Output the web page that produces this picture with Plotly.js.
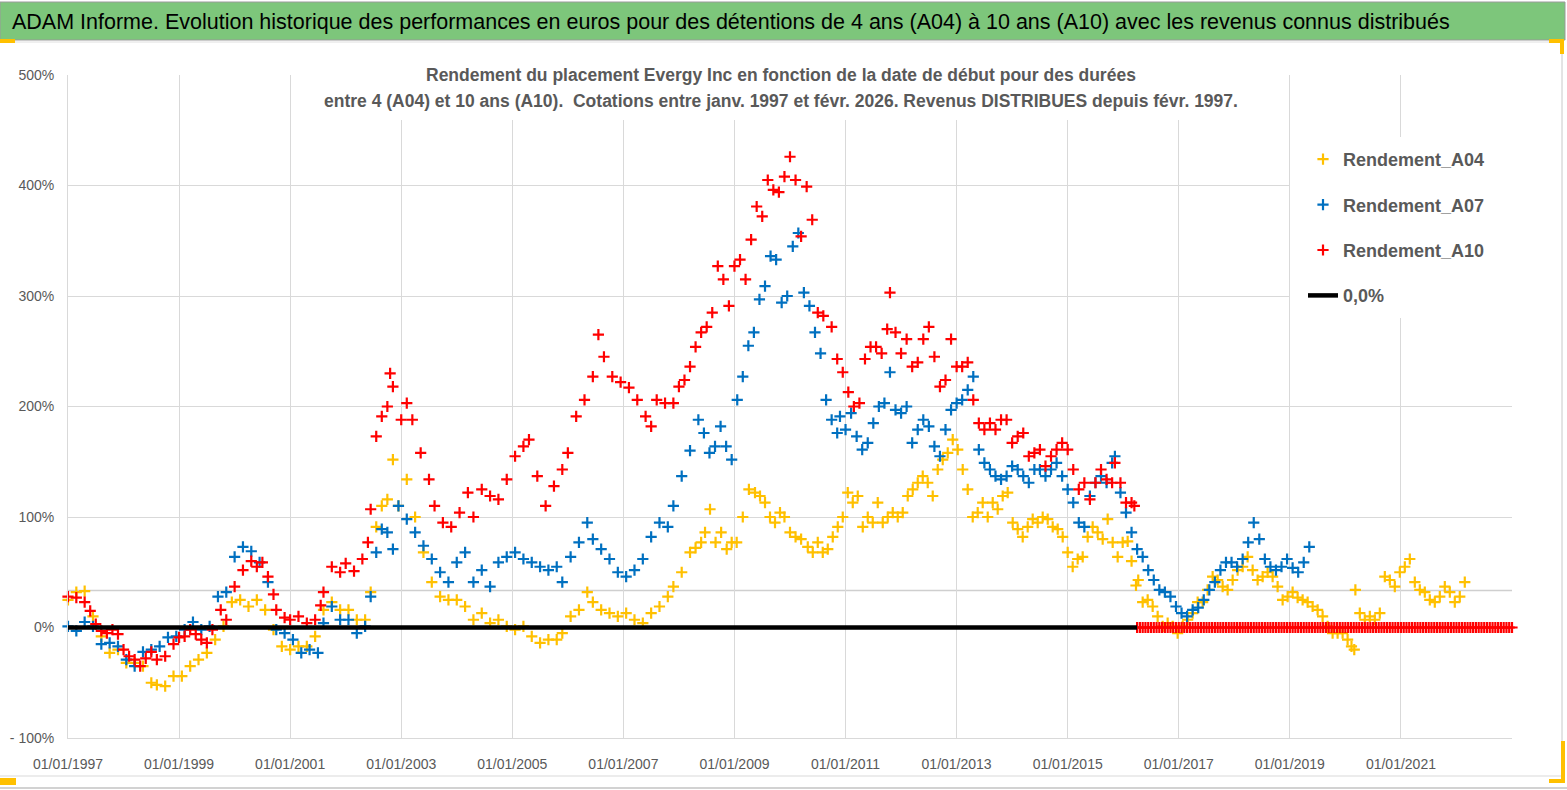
<!DOCTYPE html>
<html><head><meta charset="utf-8">
<script src="https://cdn.plot.ly/plotly-3.0.1.min.js"></script>
<style>html,body{margin:0;padding:0;background:#fff;}#chart{width:1567px;height:790px;}</style>
</head><body><div id="chart"></div>
<script>
// ---------------- DATA ----------------
const xTickVals = [1997,1999,2001,2003,2005,2007,2009,2011,2013,2015,2017,2019,2021];
const xTickText = ['01/01/1997','01/01/1999','01/01/2001','01/01/2003','01/01/2005','01/01/2007','01/01/2009','01/01/2011','01/01/2013','01/01/2015','01/01/2017','01/01/2019','01/01/2021'];
const yTickVals = [-100,0,100,200,300,400,500];
const yTickText = ['- 100%','0%','100%','200%','300%','400%','500%'];

const a04Years = [1997.0,1997.15,1997.3,1997.45,1997.6,1997.75,1997.9,1998.05,1998.2,1998.35,1998.5,1998.6,1998.75,1998.9,1999.05,1999.2,1999.35,1999.5,1999.65,1999.8,1999.95,2000.1,2000.25,2000.4,2000.55,2000.7,2000.85,2001.0,2001.15,2001.3,2001.45,2001.6,2001.75,2001.9,2002.05,2002.2,2002.35,2002.45,2002.55,2002.65,2002.75,2002.85,2002.95,2003.1,2003.25,2003.4,2003.55,2003.7,2003.85,2004.0,2004.15,2004.3,2004.45,2004.6,2004.75,2004.9,2005.05,2005.2,2005.35,2005.5,2005.65,2005.8,2005.9,2006.05,2006.2,2006.35,2006.45,2006.6,2006.75,2006.9,2007.05,2007.2,2007.35,2007.5,2007.65,2007.8,2007.9,2008.05,2008.2,2008.3,2008.4,2008.47,2008.56,2008.66,2008.76,2008.86,2008.95,2009.04,2009.15,2009.26,2009.37,2009.46,2009.55,2009.64,2009.73,2009.82,2009.9,2010.0,2010.1,2010.2,2010.32,2010.41,2010.5,2010.59,2010.68,2010.77,2010.86,2010.95,2011.04,2011.13,2011.22,2011.31,2011.4,2011.49,2011.58,2011.67,2011.76,2011.85,2011.94,2012.03,2012.12,2012.21,2012.3,2012.39,2012.48,2012.57,2012.66,2012.75,2012.84,2012.93,2013.02,2013.11,2013.2,2013.29,2013.38,2013.47,2013.56,2013.65,2013.74,2013.83,2013.92,2014.01,2014.1,2014.19,2014.28,2014.37,2014.46,2014.55,2014.64,2014.73,2014.82,2014.91,2015.0,2015.09,2015.18,2015.27,2015.36,2015.45,2015.54,2015.63,2015.72,2015.81,2015.9,2015.99,2016.08,2016.15,2016.23,2016.27,2016.35,2016.44,2016.53,2016.62,2016.71,2016.8,2016.89,2016.98,2017.07,2017.16,2017.25,2017.34,2017.43,2017.52,2017.61,2017.7,2017.79,2017.88,2017.97,2018.06,2018.15,2018.24,2018.33,2018.42,2018.51,2018.6,2018.69,2018.78,2018.87,2018.96,2019.05,2019.14,2019.23,2019.32,2019.41,2019.5,2019.59,2019.68,2019.77,2019.86,2019.95,2020.04,2020.11,2020.16,2020.18,2020.26,2020.35,2020.44,2020.53,2020.62,2020.71,2020.8,2020.89,2020.98,2021.07,2021.16,2021.25,2021.34,2021.43,2021.52,2021.61,2021.7,2021.79,2021.88,2021.97,2022.06,2022.15];
const a04Values = [25,32,33,10,-8,-23,-20,-32,-32,-35,-50,-52,-53,-44,-44,-35,-29,-23,-11,1,23,25,19,25,16,-2,-17,-20,-17,-17,-8,16,23,16,16,7,7,32,91,110,116,152,110,134,100,68,41,28,25,25,19,7,13,4,7,1,-2,1,-8,-14,-11,-11,-5,10,16,32,23,16,13,10,13,7,4,13,19,28,37,50,68,72,77,86,107,77,86,71,77,77,100,125,122,119,113,100,95,104,100,86,82,80,73,68,77,68,71,82,91,100,122,113,119,91,100,95,113,95,100,104,100,104,119,125,131,137,131,119,143,152,158,170,161,143,125,100,104,113,100,113,107,119,122,95,89,82,91,98,95,100,98,91,89,82,68,55,62,64,82,91,86,80,98,77,64,77,78,60,38,43,23,25,19,10,1,4,1,-5,1,7,13,23,23,34,46,43,37,34,43,52,55,64,52,43,46,50,46,37,25,28,32,27,25,23,19,16,10,1,-5,-5,-5,-11,-17,-20,34,13,7,10,7,13,46,43,37,50,55,62,41,34,32,25,23,28,37,32,23,28,41];

const a07Years = [1997.0,1997.15,1997.3,1997.45,1997.6,1997.75,1997.9,1998.05,1998.2,1998.35,1998.5,1998.65,1998.8,1998.95,1999.1,1999.25,1999.4,1999.55,1999.7,1999.85,2000.0,2000.15,2000.3,2000.45,2000.6,2000.75,2000.9,2001.05,2001.2,2001.35,2001.5,2001.6,2001.75,2001.9,2002.05,2002.2,2002.35,2002.45,2002.55,2002.65,2002.75,2002.85,2002.95,2003.1,2003.25,2003.4,2003.55,2003.7,2003.85,2004.0,2004.15,2004.3,2004.45,2004.6,2004.75,2004.9,2005.05,2005.2,2005.35,2005.5,2005.65,2005.8,2005.9,2006.05,2006.2,2006.35,2006.45,2006.6,2006.75,2006.9,2007.05,2007.2,2007.35,2007.5,2007.65,2007.8,2007.9,2008.05,2008.2,2008.35,2008.45,2008.55,2008.65,2008.75,2008.85,2008.95,2009.05,2009.15,2009.25,2009.35,2009.45,2009.55,2009.65,2009.75,2009.85,2009.95,2010.05,2010.15,2010.25,2010.35,2010.45,2010.55,2010.65,2010.75,2010.85,2010.9,2011.0,2011.1,2011.2,2011.3,2011.4,2011.5,2011.6,2011.7,2011.8,2011.9,2012.0,2012.1,2012.2,2012.3,2012.4,2012.5,2012.6,2012.7,2012.8,2012.9,2013.0,2013.1,2013.2,2013.3,2013.4,2013.5,2013.6,2013.7,2013.8,2013.9,2014.0,2014.1,2014.2,2014.3,2014.4,2014.5,2014.6,2014.7,2014.8,2014.9,2015.0,2015.1,2015.2,2015.3,2015.4,2015.5,2015.6,2015.7,2015.8,2015.85,2015.95,2016.05,2016.15,2016.25,2016.35,2016.45,2016.55,2016.65,2016.75,2016.85,2016.95,2017.05,2017.15,2017.25,2017.35,2017.45,2017.55,2017.65,2017.75,2017.85,2017.95,2018.05,2018.15,2018.25,2018.35,2018.45,2018.55,2018.65,2018.75,2018.85,2018.95,2019.05,2019.15,2019.25,2019.35];
const a07Values = [1,-3,5,1,-15,-14,-17,-29,-35,-22,-20,-17,-9,-8,-2,5,-2,1,28,32,64,73,69,59,41,-2,-5,-11,-23,-20,-23,4,19,7,7,-5,1,28,68,89,86,71,110,98,86,74,62,50,41,59,68,41,52,37,59,64,68,62,59,55,52,55,41,64,77,95,80,71,62,50,46,52,62,82,95,91,110,137,160,188,176,158,164,182,164,152,206,227,255,267,297,309,336,333,294,300,345,357,303,291,267,248,206,188,176,191,179,194,173,161,167,185,200,203,231,197,194,200,167,179,188,182,164,155,179,197,203,206,215,227,161,149,143,137,134,137,146,143,137,131,143,143,137,143,149,137,125,113,95,91,119,131,137,131,149,155,122,104,86,71,64,52,43,34,32,28,19,13,10,16,18,25,34,41,52,59,59,55,62,77,95,80,62,55,52,55,62,54,50,59,73];

const a10Years = [1997.0,1997.15,1997.3,1997.4,1997.5,1997.6,1997.7,1997.8,1997.9,1998.0,1998.1,1998.2,1998.3,1998.4,1998.5,1998.6,1998.75,1998.9,1999.0,1999.1,1999.2,1999.3,1999.4,1999.5,1999.6,1999.75,1999.85,2000.0,2000.15,2000.3,2000.4,2000.5,2000.6,2000.7,2000.75,2000.9,2001.0,2001.15,2001.3,2001.45,2001.55,2001.6,2001.75,2001.9,2002.0,2002.15,2002.3,2002.4,2002.45,2002.55,2002.65,2002.75,2002.8,2002.85,2003.0,2003.1,2003.2,2003.35,2003.5,2003.6,2003.75,2003.9,2004.05,2004.2,2004.3,2004.45,2004.6,2004.75,2004.9,2005.05,2005.2,2005.3,2005.45,2005.6,2005.75,2005.9,2006.0,2006.15,2006.3,2006.45,2006.55,2006.65,2006.8,2006.95,2007.1,2007.25,2007.4,2007.5,2007.6,2007.75,2007.9,2008.0,2008.1,2008.2,2008.3,2008.4,2008.5,2008.6,2008.7,2008.8,2008.9,2009.0,2009.1,2009.2,2009.3,2009.4,2009.5,2009.6,2009.7,2009.8,2009.9,2010.0,2010.1,2010.2,2010.3,2010.4,2010.5,2010.6,2010.75,2010.85,2010.95,2011.05,2011.15,2011.25,2011.35,2011.45,2011.55,2011.65,2011.75,2011.8,2011.9,2012.0,2012.1,2012.2,2012.3,2012.4,2012.5,2012.6,2012.7,2012.8,2012.9,2013.0,2013.1,2013.2,2013.3,2013.4,2013.5,2013.6,2013.7,2013.8,2013.9,2014.0,2014.1,2014.2,2014.3,2014.4,2014.5,2014.6,2014.7,2014.8,2014.9,2015.0,2015.1,2015.2,2015.3,2015.4,2015.5,2015.6,2015.7,2015.8,2015.85,2015.95,2016.05,2016.15,2016.2];
const a10Values = [28,27,23,15,3,-3,-5,-2,-6,-20,-26,-29,-35,-28,-22,-29,-26,-15,-9,-8,-2,-6,-11,-14,-2,16,7,37,52,60,55,59,46,30,16,9,7,10,4,7,20,32,55,50,58,51,62,77,107,173,191,200,230,218,188,203,188,158,134,110,95,91,104,122,100,125,119,116,134,155,164,170,137,110,128,143,158,191,206,227,265,245,227,222,217,206,191,182,206,203,203,218,224,236,254,267,272,285,327,315,291,327,333,315,351,381,372,405,396,394,408,426,405,354,399,369,285,282,272,243,231,213,200,203,243,254,254,248,270,303,267,248,261,236,240,261,272,245,218,224,261,236,236,240,206,185,179,185,179,188,188,167,173,176,155,158,161,146,155,161,167,161,143,125,131,116,131,143,134,131,149,131,113,113,110];

// A10 start dates after 2016: the series is shown at 0 %
const a10ZeroYears = [2016.25,2016.3,2016.35,2016.4,2016.45,2016.5,2016.55,2016.6,2016.65,2016.7,2016.75,2016.8,2016.85,2016.9,2016.95,2017.0,2017.05,2017.1,2017.15,2017.2,2017.25,2017.3,2017.35,2017.4,2017.45,2017.5,2017.55,2017.6,2017.65,2017.7,2017.75,2017.8,2017.85,2017.9,2017.95,2018.0,2018.05,2018.1,2018.15,2018.2,2018.25,2018.3,2018.35,2018.4,2018.45,2018.5,2018.55,2018.6,2018.65,2018.7,2018.75,2018.8,2018.85,2018.9,2018.95,2019.0,2019.05,2019.1,2019.15,2019.2,2019.25,2019.3,2019.35,2019.4,2019.45,2019.5,2019.55,2019.6,2019.65,2019.7,2019.75,2019.8,2019.85,2019.9,2019.95,2020.0,2020.05,2020.1,2020.15,2020.2,2020.25,2020.3,2020.35,2020.4,2020.45,2020.5,2020.55,2020.6,2020.65,2020.7,2020.75,2020.8,2020.85,2020.9,2020.95,2021.0,2021.05,2021.1,2021.15,2021.2,2021.25,2021.3,2021.35,2021.4,2021.45,2021.5,2021.55,2021.6,2021.65,2021.7,2021.75,2021.8,2021.85,2021.9,2021.95,2022.0,2022.05,2022.1,2022.15,2022.2,2022.25,2022.3,2022.35,2022.4,2022.45,2022.5,2022.55,2022.6,2022.65,2022.7,2022.75,2022.8,2022.85,2022.9,2022.95,2023.0];
const a10ZeroValues = [0,0,0,0,0,0,0,0,0,0,0,0,0,0,0,0,0,0,0,0,0,0,0,0,0,0,0,0,0,0,0,0,0,0,0,0,0,0,0,0,0,0,0,0,0,0,0,0,0,0,0,0,0,0,0,0,0,0,0,0,0,0,0,0,0,0,0,0,0,0,0,0,0,0,0,0,0,0,0,0,0,0,0,0,0,0,0,0,0,0,0,0,0,0,0,0,0,0,0,0,0,0,0,0,0,0,0,0,0,0,0,0,0,0,0,0,0,0,0,0,0,0,0,0,0,0,0,0,0,0,0,0,0,0,0,0];

const zeroLineYears = [1997.0, 2016.25];
const zeroLineValues = [0, 0];
const refLevel = 33.5;   // grey horizontal reference line

const seriesNames = ['Rendement_A04','Rendement_A07','Rendement_A10','0,0%'];
const seriesColors = ['#FFC000','#0070C0','#FF0000','#000000'];
const bannerText = 'ADAM Informe. Evolution historique des performances en euros pour des détentions de 4 ans (A04) à 10 ans (A10) avec les revenus connus distribués';
const subtitleLines = ['Rendement du placement Evergy Inc en fonction de la date de début pour des durées',
                       'entre 4 (A04) et 10 ans (A10).  Cotations entre janv. 1997 et févr. 2026. Revenus DISTRIBUES depuis févr. 1997.'];

// ---------------- LAYOUT HELPERS ----------------
const W = 1567, H = 790, L = 68, R = 1512, T = 75, B = 738;
const px = x => (x - L) / (R - L);
const py = y => (B - y) / (B - T);
const FONT = 'Liberation Sans, Arial, sans-serif';
const GREY = '#595959';

function markerTrace(xs, ys, i, showLegend) {
  return {
    type: 'scatter', mode: 'markers', x: xs, y: ys, name: seriesNames[i],
    legendgroup: 'g' + i, showlegend: showLegend, cliponaxis: false, hoverinfo: 'skip',
    marker: { symbol: 'cross-thin', size: 8, color: seriesColors[i],
              line: { color: seriesColors[i], width: 2.2 } }
  };
}

const traces = [
  markerTrace(a04Years, a04Values, 0, true),
  markerTrace(a07Years, a07Values, 1, true),
  markerTrace(a10Years, a10Values, 2, true),
  markerTrace(a10ZeroYears, a10ZeroValues, 2, false),
  { type: 'scatter', mode: 'lines', x: zeroLineYears, y: zeroLineValues, name: seriesNames[3],
    legendgroup: 'g3', hoverinfo: 'skip', line: { color: seriesColors[3], width: 4.5 } }
];

function rect(x0, y0, x1, y1, fill, layer, lineColor, lineW) {
  return { type: 'rect', xref: 'paper', yref: 'paper', x0: px(x0), x1: px(x1), y0: py(y1), y1: py(y0),
           fillcolor: fill, layer: layer || 'above',
           line: { width: lineW || 0, color: lineColor || fill } };
}
function hline(x0, x1, y, color, w) {
  return { type: 'line', xref: 'paper', yref: 'paper', x0: px(x0), x1: px(x1), y0: py(y), y1: py(y),
           line: { color: color, width: w }, layer: 'above' };
}
function vline(x, y0, y1, color, w) {
  return { type: 'line', xref: 'paper', yref: 'paper', x0: px(x), x1: px(x), y0: py(y0), y1: py(y1),
           line: { color: color, width: w }, layer: 'above' };
}

const shapes = [
  { type: 'line', xref: 'x', yref: 'y', x0: 1997, x1: 2023, y0: refLevel, y1: refLevel,
    line: { color: '#cfcfcf', width: 1.6 }, layer: 'below' },
  rect(0, 2, 1565, 40, '#7DC67B', 'above', '#9a9a9a', 1),
  rect(320, 55, 1242, 120, '#ffffff', 'above'),
  rect(1290, 137, 1512, 318, '#ffffff', 'above'),
  hline(0, 1562, 776, '#d9d9d9', 1),
  hline(0, 1567, 788, '#a6a6a6', 1.2),
  vline(1562, 42, 776, '#c8c8c8', 1),
  hline(0, 1562, 42, '#e0e0e0', 1),
  rect(0, 39, 15, 43, '#FFC000', 'above'),
  rect(1549, 39, 1563, 43, '#FFC000', 'above'),
  rect(1560, 39, 1564, 54, '#FFC000', 'above'),
  rect(1549, 779, 1565, 783, '#FFC000', 'above'),
  rect(1561, 741, 1565, 783, '#FFC000', 'above'),
  rect(0, 778, 16, 785, '#FFC000', 'above')
];

const annotations = [
  { xref: 'paper', yref: 'paper', x: px(10), y: py(22), xanchor: 'left', yanchor: 'middle', showarrow: false,
    text: bannerText, font: { family: FONT, size: 21.5, color: '#000000' } },
  { xref: 'paper', yref: 'paper', x: px(781), y: py(75), xanchor: 'center', yanchor: 'middle', showarrow: false,
    text: '<b>' + subtitleLines[0] + '</b>', font: { family: FONT, size: 17.5, color: GREY } },
  { xref: 'paper', yref: 'paper', x: px(781), y: py(101), xanchor: 'center', yanchor: 'middle', showarrow: false,
    text: '<b>' + subtitleLines[1] + '</b>', font: { family: FONT, size: 17.5, color: GREY } }
];

const layout = {
  width: W, height: H,
  margin: { l: L, r: W - R, t: T, b: H - B, pad: 0 },
  paper_bgcolor: '#ffffff', plot_bgcolor: '#ffffff',
  showlegend: true,
  legend: { x: px(1303), y: py(141), xanchor: 'left', yanchor: 'top', bgcolor: 'rgba(0,0,0,0)',
            traceorder: 'grouped', tracegroupgap: 19,
            font: { family: FONT, size: 18, color: GREY, weight: 'bold' } },
  xaxis: { type: 'linear', range: [1997, 2023], tickmode: 'array', tickvals: xTickVals, ticktext: xTickText,
           showgrid: true, gridcolor: '#d9d9d9', gridwidth: 1, zeroline: false,
           showline: true, linecolor: '#d9d9d9', linewidth: 1, ticks: '',
           ticklabelstandoff: 13,
           tickfont: { family: FONT, size: 14, color: GREY }, fixedrange: true },
  yaxis: { range: [-100, 500], tickmode: 'array', tickvals: yTickVals, ticktext: yTickText,
           showgrid: true, gridcolor: '#d9d9d9', gridwidth: 1, zeroline: false,
           showline: true, linecolor: '#d9d9d9', linewidth: 1, ticks: '',
           ticklabelstandoff: 10,
           tickfont: { family: FONT, size: 14, color: GREY }, fixedrange: true },
  shapes: shapes,
  annotations: annotations
};

Plotly.newPlot('chart', traces, layout, { staticPlot: true, displayModeBar: false });
</script>
</body></html>
